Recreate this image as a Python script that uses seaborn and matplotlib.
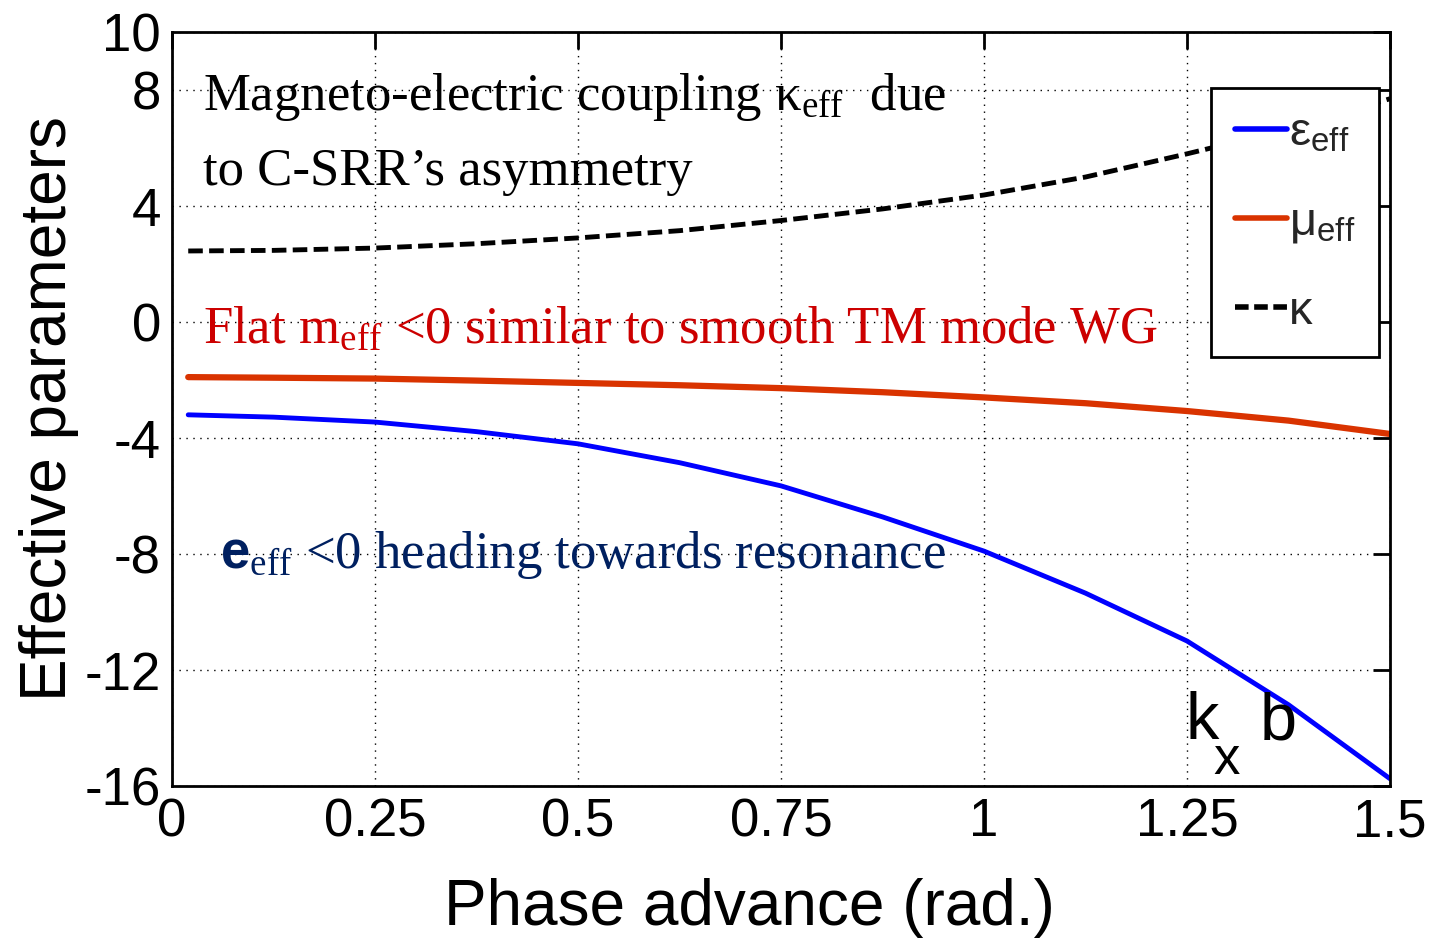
import matplotlib
matplotlib.use("Agg")
import matplotlib.pyplot as plt
import seaborn as sns
import pandas as pd
from matplotlib.lines import Line2D

phase = [0.02, 0.125, 0.25, 0.375, 0.5, 0.625, 0.75, 0.875, 1.0, 1.125, 1.25, 1.375, 1.5]
eps_eff = [-3.2, -3.28, -3.45, -3.78, -4.2, -4.85, -5.65, -6.72, -7.9, -9.35, -11.0, -13.2, -15.75]
mu_eff = [-1.9, -1.92, -1.95, -2.02, -2.1, -2.18, -2.28, -2.42, -2.6, -2.8, -3.07, -3.4, -3.86]
kappa = [2.45, 2.47, 2.55, 2.7, 2.9, 3.15, 3.5, 3.9, 4.38, 5.0, 5.8, 6.65, 7.7]

xticks = [0, 0.25, 0.5, 0.75, 1, 1.25, 1.5]
xticklabels = ["0", "0.25", "0.5", "0.75", "1", "1.25", "1.5"]
yticks = [-16, -12, -8, -4, 0, 4, 8, 10]

sns.set_theme(style="white")
plt.rcParams["font.family"] = ["Liberation Sans", "DejaVu Sans"]
plt.rcParams["axes.unicode_minus"] = False
plt.rcParams["mathtext.fontset"] = "custom"
plt.rcParams["mathtext.rm"] = "Liberation Serif"
plt.rcParams["mathtext.it"] = "Liberation Serif:italic"
plt.rcParams["mathtext.bf"] = "Liberation Sans:bold"
plt.rcParams["mathtext.sf"] = "Liberation Sans"

fig = plt.figure(figsize=(14.32, 9.42), dpi=100)
ax = fig.add_axes([0.1201, 0.1656, 0.8506, 0.8004])

df = pd.DataFrame({"phase": phase, "eps": eps_eff, "mu": mu_eff, "kappa": kappa})
sns.lineplot(data=df, x="phase", y="eps", ax=ax, color="#0000FF", lw=3.5)
sns.lineplot(data=df, x="phase", y="mu", ax=ax, color="#D93300", lw=4.5)
sns.lineplot(data=df, x="phase", y="kappa", ax=ax, color="black", lw=3.5, linestyle=(0, (3, 1.3)))

ax.set_xlim(0, 1.5)
ax.set_ylim(-16, 10)
ax.set_xticks(xticks)
ax.set_xticklabels(xticklabels)
ax.set_yticks(yticks)
ax.grid(True, color="black", linestyle=(0, (1, 4)), lw=1)
for s in ax.spines.values():
    s.set_color("black")
    s.set_linewidth(2)
ax.tick_params(axis="both", direction="in", length=12, width=2, labelsize=38,
               top=True, right=True, colors="black", pad=8)
ax.set_xlabel("Phase advance (rad.)", fontsize=46, labelpad=22, color="black", x=0.474)
ax.set_ylabel("Effective parameters", fontsize=46, labelpad=4, color="black")

handles = [Line2D([], [], color="#0000FF", lw=4),
           Line2D([], [], color="#D93300", lw=4),
           Line2D([], [], color="black", lw=4, linestyle=(0, (2.45, 1.0)))]
labels = ["ε$_{\\mathsf{eff}}$", "μ$_{\\mathsf{eff}}$", "κ"]
leg = ax.legend(handles, labels, loc="upper left", bbox_to_anchor=(0.853, 0.9257),
                fontsize=34, handlelength=1.1, handletextpad=0.05, labelspacing=0.95,
                frameon=True, fancybox=False, borderpad=0.5, borderaxespad=0)
leg.get_frame().set_edgecolor("black")
leg.get_frame().set_linewidth(2)
leg.get_frame().set_alpha(1)

serif = ["Liberation Serif", "DejaVu Serif"]
ax.text(0.038, 7.76, "Magneto-electric coupling κ$_{\\mathrm{eff}}$  due", fontsize=38,
        family=serif, color="black", va="center")
ax.text(0.038, 5.17, "to C-SRR\u2019s asymmetry", fontsize=38, family=serif, color="black", va="center")
ax.text(0.038, -0.28, "Flat m$_{\\mathrm{eff}}$ <0 similar to smooth TM mode WG", fontsize=38,
        family=serif, color="#CC0000", va="center")
ax.text(0.059, -8.03, "$\\mathbf{e}_{\\mathrm{eff}}$ <0 heading towards resonance", fontsize=38,
        family=serif, color="#002060", va="center")
ax.text(1.2475, -13.8, "k", fontsize=48, family=["Liberation Sans"], color="black", va="center")
ax.text(1.282, -15.1, "x", fontsize=38, family=["Liberation Sans"], color="black", va="center")
ax.text(1.340, -13.8, "b", fontsize=48, family=["Liberation Sans"], color="black", va="center")

fig.savefig("out.png", dpi=100)
